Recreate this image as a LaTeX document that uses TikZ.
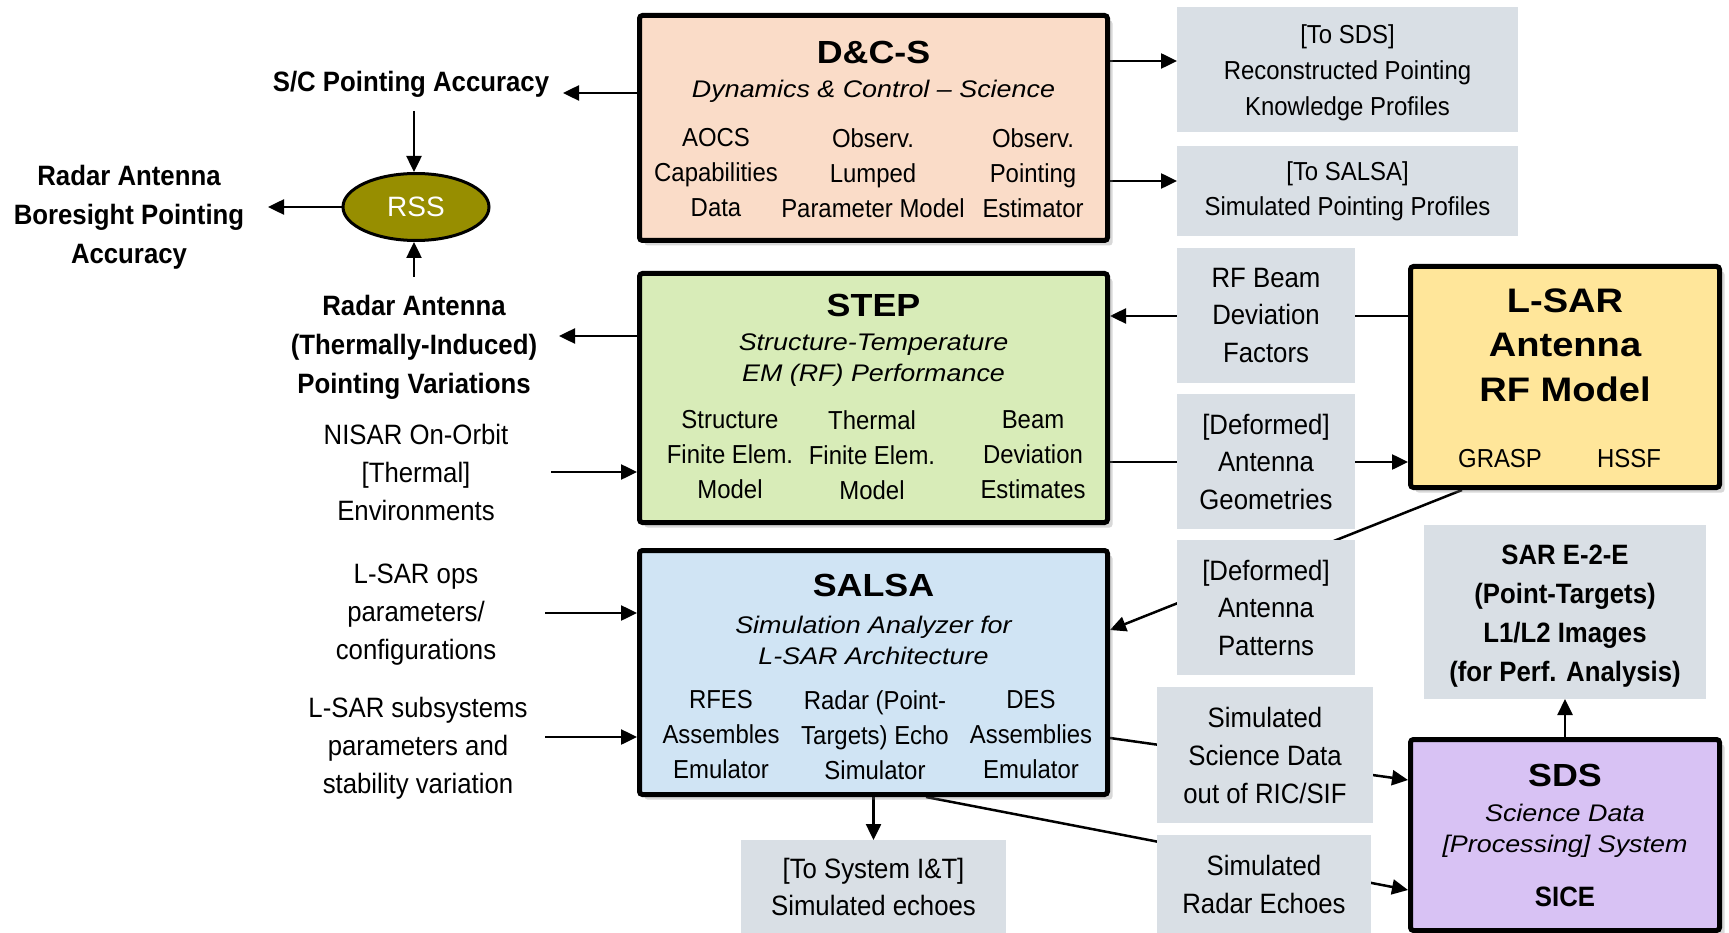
\documentclass[tikz,border=0pt]{standalone}
\usepackage{fontspec}
\setmainfont{Liberation Sans}
\newfontfamily\nar{Liberation Sans}[FakeStretch=0.92]
\newfontfamily\wid{Liberation Sans}[FakeStretch=1.12]
\usetikzlibrary{arrows.meta,shadows,shapes.geometric}
\pgfdeclarelayer{bg}
\pgfsetlayers{bg,main}
\definecolor{cdcs}{HTML}{FADCC8}
\definecolor{cstep}{HTML}{D8ECB8}
\definecolor{csalsa}{HTML}{D0E4F4}
\definecolor{clsar}{HTML}{FFE69A}
\definecolor{csds}{HTML}{D8C2F4}
\definecolor{cgray}{HTML}{D9DFE5}
\definecolor{crss}{HTML}{978E00}
\tikzset{
  bigbox/.style={draw, line width=5pt, rounded corners=3pt,
    drop shadow={shadow xshift=5pt, shadow yshift=-5pt, opacity=0.3}},
  gbox/.style={fill=cgray, inner sep=0pt, outer sep=0pt, align=center},
  arr/.style={line width=2.5pt, -{Triangle[length=16pt,width=15pt]}},
  ttl/.style={font=\wid\bfseries\fontsize{32}{36}\selectfont, inner sep=0pt},
  subt/.style={font=\wid\itshape\fontsize{24}{31}\selectfont, align=center, inner sep=0pt},
  body/.style={font=\nar\fontsize{26}{35}\selectfont, align=center, inner sep=0pt},
  lab/.style={font=\nar\fontsize{28}{38}\selectfont, align=center},
  blab/.style={font=\nar\bfseries\fontsize{28}{39}\selectfont, align=center},
}
\begin{document}
\begin{tikzpicture}[x=1pt,y=-1pt]
\useasboundingbox (0,0) rectangle (1729,933);
\begin{pgfonlayer}{bg}
\fill[white] (0,0) rectangle (1729,933);
\end{pgfonlayer}

% ---- main blocks
\node[bigbox, fill=cdcs, minimum width=468pt, minimum height=225pt] (dcs) at (873.5,128) {};
\node[ttl] (dcst) at (873.5,52) {D\&C-S};
\node[subt] (dcss) at (873.5,91) {Dynamics \& Control \textendash{} Science};
\node[body] (dcs1) at (716,173) {AOCS\\Capabilities\\Data};
\node[body] (dcs2) at (873,173) {Observ.\\Lumped\\Parameter Model};
\node[body] (dcs3) at (1033,173) {Observ.\\Pointing\\Estimator};

\node[bigbox, fill=cstep, minimum width=468pt, minimum height=249pt] (step) at (873.5,398) {};
\node[ttl] (stept) at (873.5,305) {STEP};
\node[subt] (steps) at (873.5,360) {Structure-Temperature\\EM (RF) Performance};
\node[body] (step1) at (730,455) {Structure\\Finite Elem.\\Model};
\node[body] (step2) at (872,455) {Thermal\\Finite Elem.\\Model};
\node[body] (step3) at (1033,455) {Beam\\Deviation\\Estimates};

\node[bigbox, fill=csalsa, minimum width=468pt, minimum height=244pt] (salsa) at (873.5,672.5) {};
\node[ttl] (salsat) at (873.5,585) {SALSA};
\node[subt] (salsas) at (873.5,640) {Simulation Analyzer for\\L-SAR Architecture};
\node[body] (salsa1) at (721,735) {RFES\\Assembles\\Emulator};
\node[body] (salsa2) at (875,735) {Radar (Point-\\Targets) Echo\\Simulator};
\node[body] (salsa3) at (1031,735) {DES\\Assemblies\\Emulator};

\node[bigbox, fill=clsar, minimum width=309pt, minimum height=221pt] (lsar) at (1565,377) {};
\node[ttl, font=\wid\bfseries\fontsize{34}{44.5}\selectfont, align=center] (lsart) at (1565,345) {L-SAR\\Antenna\\RF Model};
\node[body] (grasp) at (1500,459) {GRASP};
\node[body] (hssf) at (1629,459) {HSSF};

\node[bigbox, fill=csds, minimum width=309pt, minimum height=191pt] (sds) at (1565,835) {};
\node[ttl] (sdst) at (1565,775) {SDS};
\node[subt] (sdss) at (1565,831) {Science Data\\{}[Processing] System};
\node[blab, inner sep=0pt] (sice) at (1565,897) {SICE};

% ---- RSS
\node[ellipse, draw, line width=3pt, fill=crss, minimum width=146pt, minimum height=67pt,
      font=\fontsize{28}{32}\selectfont, text=white, inner sep=0pt] (rss) at (416,207) {RSS};

% ---- gray boxes
\node[gbox, minimum width=341pt, minimum height=125pt] (boxA) at (1347.5,69.5) {};
\node[body, font=\nar\fontsize{26}{36}\selectfont] (boxAt) at (1347.5,72.5) {[To SDS]\\Reconstructed Pointing\\Knowledge Profiles};
\node[gbox, font=\nar\fontsize{26}{35}\selectfont, minimum width=341pt, minimum height=90pt] (boxB) at (1347.5,191) {[To SALSA]\\Simulated Pointing Profiles};
\node[gbox, font=\nar\fontsize{28}{37.5}\selectfont, minimum width=178pt, minimum height=135pt] (boxC) at (1266,315.5) {RF Beam\\Deviation\\Factors};
\node[gbox, font=\nar\fontsize{28}{37.5}\selectfont, minimum width=178pt, minimum height=135pt] (boxD) at (1266,461.5) {[Deformed]\\Antenna\\Geometries};
\node[gbox, font=\nar\fontsize{28}{37.5}\selectfont, minimum width=178pt, minimum height=135pt] (boxE) at (1266,607.5) {[Deformed]\\Antenna\\Patterns};
\node[gbox, font=\nar\fontsize{28}{38}\selectfont, minimum width=216pt, minimum height=136pt] (boxF) at (1265,755) {Simulated\\Science Data\\out of RIC/SIF};
\node[gbox, font=\nar\fontsize{28}{38}\selectfont, minimum width=214pt, minimum height=98pt] (boxG) at (1264,884) {Simulated\\Radar Echoes};
\node[gbox, minimum width=282pt, minimum height=174pt] (boxH) at (1565,612) {};
\node[blab, inner sep=0pt] (boxHt) at (1565,616) {SAR E-2-E\\(Point-Targets)\\L1/L2 Images\\(for Perf. Analysis)};
\node[gbox, font=\nar\fontsize{28}{37}\selectfont, minimum width=265pt, minimum height=93pt] (boxI) at (873.5,886.5) {[To System I\&T]\\Simulated echoes};

% ---- outside labels
\node[blab] (sc) at (411,84) {S/C Pointing Accuracy};
\node[blab] (rab) at (129,217) {Radar Antenna\\Boresight Pointing\\Accuracy};
\node[blab] (rat) at (414,347) {Radar Antenna\\(Thermally-Induced)\\Pointing Variations};
\node[lab] (nisar) at (416,472) {NISAR On-Orbit\\{}[Thermal]\\Environments};
\node[lab] (ops) at (416,615) {L-SAR ops\\parameters/\\configurations};
\node[lab] (subs) at (418,748) {L-SAR subsystems\\parameters and\\stability variation};

% ---- free ends
\coordinate (scend) at (563,93);
\coordinate (scout) at (414,111);
\coordinate (rabend) at (268,207);
\coordinate (ratin) at (414,277);
\coordinate (ratend) at (559,336);
\coordinate (nisend) at (551,472);
\coordinate (opsend) at (545,613);
\coordinate (subend) at (545,737);

% ---- connectors
\begin{pgfonlayer}{bg}
\draw[arr] (dcs.west |- 0,93) -- (scend);
\draw[arr] (scout) -- (scout |- rss.north);
\draw[arr] (rss.west) -- (rabend);
\draw[arr] (ratin) -- (ratin |- rss.south);
\draw[arr] (step.west |- 0,336) -- (ratend);
\draw[arr] (nisend) -- (nisend -| step.west);
\draw[arr] (opsend) -- (opsend -| salsa.west);
\draw[arr] (subend) -- (subend -| salsa.west);
\draw[arr] (dcs.east |- 0,61) -- (boxA.west |- 0,61);
\draw[arr] (dcs.east |- 0,181) -- (boxB.west |- 0,181);
\draw[arr] (lsar.west |- 0,316) -- (step.east |- 0,316);
\draw[arr] (step.east |- 0,462) -- (lsar.west |- 0,462);
\draw[arr] (lsar.south -| 1462,0) -- (salsa.east |- 0,630);
\draw[arr] (salsa.east |- 0,738) -- (sds.west |- 0,780);
\draw[arr] (salsa.south -| 926,0) -- (sds.west |- 0,890);
\draw[arr] (salsa.south) -- (boxI.north);
\draw[arr] (sds.north) -- (boxH.south);
\end{pgfonlayer}
\end{tikzpicture}
\end{document}
